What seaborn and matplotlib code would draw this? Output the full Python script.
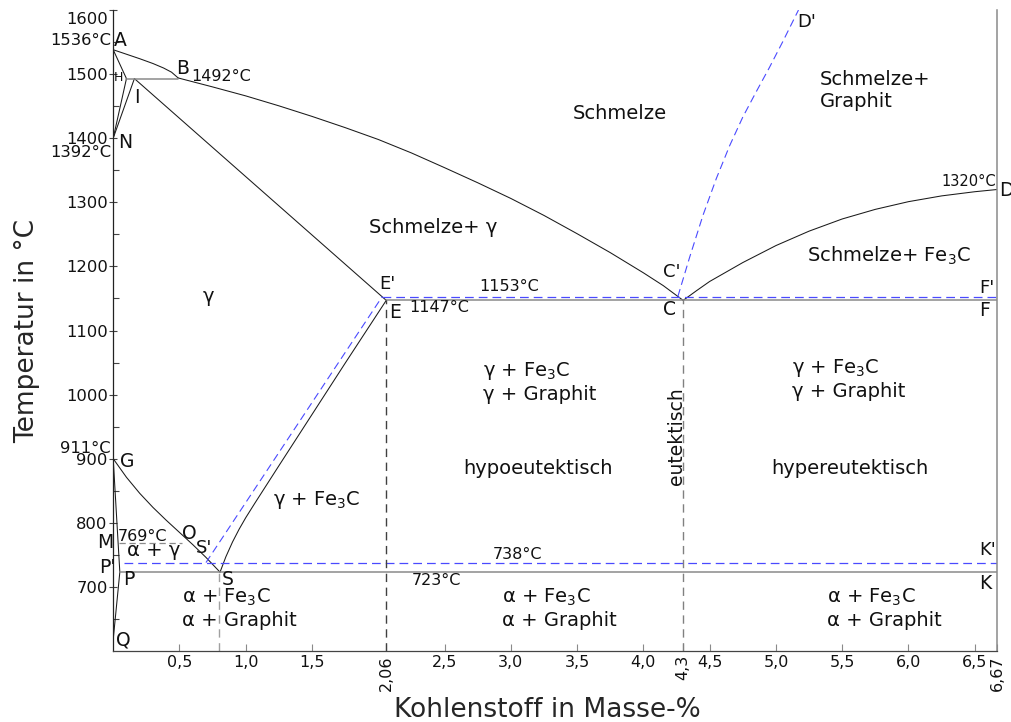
import numpy as np
import pandas as pd
import matplotlib
matplotlib.use("Agg")
import matplotlib.pyplot as plt
import matplotlib.transforms as mtransforms
import seaborn as sns

# ---------------- data (C in mass-%, T in °C) ----------------
AB_C = [0.0, 0.1, 0.2, 0.3, 0.38, 0.44, 0.49]
AB_T = [1538, 1531, 1524, 1516.5, 1509.5, 1503, 1494]
BC_C = [0.49, 0.75, 1.0, 1.25, 1.5, 1.75, 2.0, 2.25, 2.5, 2.75, 3.0, 3.25,
        3.5, 3.75, 4.0, 4.15, 4.3]
BC_T = [1494, 1480, 1466, 1450.5, 1434, 1416.5, 1398, 1377, 1354, 1330.5,
        1306, 1279.5, 1251, 1221.5, 1190, 1170, 1147]
AH_C = [0.0, 0.10]
AH_T = [1538, 1493]
HN_C = [0.10, 0.0]
HN_T = [1493, 1400]
IN_C = [0.16, 0.0]
IN_T = [1493, 1400]
IE_C = [0.16, 2.06]
IE_T = [1493, 1147]
CD_C = [4.3, 4.4, 4.5, 4.75, 5.0, 5.25, 5.5, 5.75, 6.0, 6.25, 6.5, 6.67]
CD_T = [1147, 1162, 1176.5, 1206, 1232.5, 1255, 1274, 1289, 1301, 1310,
        1316.5, 1320]
CpDp_C = [4.26, 4.35, 4.45, 4.55, 4.65, 4.75, 4.85, 4.95, 5.05, 5.17]
CpDp_T = [1153, 1215, 1280, 1337, 1388, 1433, 1472, 1510, 1550, 1600]
GS_C = [0.0, 0.1, 0.2, 0.3, 0.4, 0.5, 0.6, 0.7, 0.806]
GS_T = [900, 871, 846, 824, 804, 785, 766, 746, 723]
GPQ_C = [0.0, 0.05, 0.0]
GPQ_T = [900, 723, 618]
SE_C = [0.806, 0.85, 0.9, 0.95, 1.0, 1.07, 1.25, 1.5, 1.75, 2.06]
SE_T = [723, 747, 770, 790, 808, 831, 889, 969, 1049, 1147]
SpEp_C = [0.70, 2.03]
SpEp_T = [738, 1153]

# horizontal isotherms: (C_start, C_end, T)
HB_line = (0.10, 0.49, 1493)
EF_line = (2.06, 6.67, 1147)
EpFp_line = (2.03, 6.67, 1153)
PK_line = (0.05, 6.67, 723)
PpKp_line = (0.08, 6.67, 738)
MO_line = (0.04, 0.52, 769)

# vertical dashed guides: C, T_top
V_C = [0.8, 2.06, 4.3]
V_T = [723, 1147, 1147]
V_COL = ["#a0a0a0", "#404040", "#808080"]

X_TICKS = [0.5, 1.0, 1.5, 2.5, 3.0, 3.5, 4.0, 4.5, 5.0, 5.5, 6.0, 6.5]
X_TICK_LABELS = ["0,5", "1,0", "1,5", "2,5", "3,0", "3,5", "4,0", "4,5",
                 "5,0", "5,5", "6,0", "6,5"]
X_SPECIAL = [2.06, 4.3, 6.67]
X_SPECIAL_LABELS = ["2,06", "4,3", "6,67"]
Y_TICKS = [700, 800, 900, 1000, 1100, 1200, 1300, 1400, 1500, 1600]

# ---------------- figure ----------------
sns.set_theme(style="ticks")
plt.rcParams["font.family"] = ["DejaVu Sans"]
fig = plt.figure(figsize=(10.12, 7.22), dpi=100)
ax = fig.add_axes([113.2 / 1012, 1 - 651 / 722, (997.3 - 113.2) / 1012, 641 / 722])

BLACK = "#1a1a1a"
GREY = "#8a8a8a"
BLUE = "#4a4aff"


def line(c, t, color=BLACK, lw=0.75, ls="-"):
    sns.lineplot(x=c, y=t, ax=ax, sort=False, estimator=None, color=color,
                 linewidth=lw, linestyle=ls)


for c, t in [(AB_C, AB_T), (BC_C, BC_T), (AH_C, AH_T), (HN_C, HN_T),
             (IN_C, IN_T), (IE_C, IE_T), (CD_C, CD_T), (GS_C, GS_T),
             (GPQ_C, GPQ_T), (SE_C, SE_T)]:
    line(c, t)

dash = (0, (7, 4))
line(CpDp_C, CpDp_T, color=BLUE, lw=0.8, ls=dash)
line(SpEp_C, SpEp_T, color=BLUE, lw=0.8, ls=dash)

for (c0, c1, t) in [HB_line, EF_line, PK_line]:
    line([c0, c1], [t, t], color=GREY, lw=1.1)
for (c0, c1, t) in [EpFp_line, PpKp_line]:
    line([c0, c1], [t, t], color=BLUE, lw=0.9, ls=dash)
line([MO_line[0], MO_line[1]], [MO_line[2], MO_line[2]], color=GREY, lw=0.9,
     ls=(0, (5, 3)))

for c, t, col in zip(V_C, V_T, V_COL):
    line([c, c], [600, t], color=col, lw=1.0, ls=(0, (6, 4)))

ax.set_xlim(0, 6.67)
ax.set_ylim(600, 1600)

# ticks
ax.set_xticks(X_TICKS + X_SPECIAL)
ax.set_xticklabels(X_TICK_LABELS + X_SPECIAL_LABELS, fontsize=11.5)
for lab in ax.get_xticklabels():
    if lab.get_text() in X_SPECIAL_LABELS:
        lab.set_rotation(90)
ax.set_yticks(Y_TICKS)
ax.set_yticklabels([str(v) for v in Y_TICKS], fontsize=11.8)
ax.set_yticks(np.arange(650, 1600, 100), minor=True)
ax.tick_params(axis="x", direction="in", length=5, width=0.8, color=GREY,
               pad=3, labelcolor="#111111")
ax.tick_params(axis="y", which="major", direction="inout", length=6, width=0.8,
               color="#444444", pad=1, labelcolor="#111111")
ax.tick_params(axis="y", which="minor", direction="in", length=4, width=0.8,
               color="#444444")
# top label sits a little lower in the reference
for lab in ax.get_yticklabels():
    if lab.get_text() == "1600":
        lab.set_transform(lab.get_transform() +
                          mtransforms.ScaledTranslation(0, -8 / 100, fig.dpi_scale_trans))

ax.spines["top"].set_visible(False)
ax.spines["right"].set_color(GREY)
ax.spines["right"].set_linewidth(1.1)
ax.spines["left"].set_color("#222222")
ax.spines["left"].set_linewidth(0.9)
ax.spines["bottom"].set_color("#444444")
ax.spines["bottom"].set_linewidth(0.9)

ax.set_xlabel("Kohlenstoff in Masse-%", fontsize=19)
ax.set_ylabel("Temperatur in °C", fontsize=19)
ax.xaxis.set_label_coords(0.491, -0.072)
ax.yaxis.set_label_coords(-0.083, 0.5)

# ---------------- annotations ----------------
TXT = "#111111"


def t(x, y, s, size=13, ha="left", va="center", **kw):
    ax.text(x, y, s, fontsize=size, ha=ha, va=va, color=TXT, **kw)


# temperatures (small)
t(-0.017, 1553, "1536°C", 11.8, ha="right")
t(-0.017, 1377, "1392°C", 11.8, ha="right")
t(-0.017, 916, "911°C", 11.8, ha="right")
t(0.59, 1497, "1492°C", 11.5)
t(6.663, 1332, "1320°C", 10.5, ha="right")
t(2.233, 1136, "1147°C", 11.5)
t(2.987, 1169, "1153°C", 11.5, ha="center")
t(0.036, 779, "769°C", 11.5)
t(3.048, 750, "738°C", 11.5, ha="center")
t(2.436, 710, "723°C", 11.5, ha="center")

# point letters
t(0.006, 1553, "A", 13.5)
t(0.007, 1494, "H", 9)
t(0.475, 1509, "B", 13.5)
t(0.18, 1464, "I", 13.5, ha="center")
t(0.036, 1393, "N", 13.5)
t(5.16, 1581, "D'", 13)
t(6.685, 1319, "D", 13.5)
t(2.006, 1173, "E'", 13)
t(2.08, 1128, "E", 13.5)
t(4.15, 1192, "C'", 13)
t(4.15, 1133, "C", 13.5)
t(6.535, 1167, "F'", 13)
t(6.535, 1131, "F", 13.5)
t(0.051, 896, "G", 13.5)
t(0.52, 784, "O", 13.5)
t(-0.002, 770, "M", 13.5, ha="right")
t(0.625, 760, "S'", 13)
t(0.02, 731, "P'", 13.5, ha="right")
t(0.075, 712, "P", 13.5)
t(0.82, 712, "S", 13.5)
t(6.535, 757, "K'", 13)
t(6.535, 706, "K", 13.5)
t(0.022, 617, "Q", 13.5)

# region labels
t(3.825, 1439, "Schmelze", 14, ha="center")
t(5.333, 1474, "Schmelze+\nGraphit", 14)
t(2.414, 1260, "Schmelze+ γ", 14, ha="center")
t(5.855, 1217, "Schmelze+ Fe$_3$C", 14, ha="center")
t(0.715, 1153, "γ", 14, ha="center")
t(2.79, 1020, "γ + Fe$_3$C\nγ + Graphit", 14)
t(5.123, 1024, "γ + Fe$_3$C\nγ + Graphit", 14)
t(4.248, 935, "eutektisch", 13.5, ha="center", rotation=90)
t(3.206, 885, "hypoeutektisch", 14, ha="center")
t(5.554, 885, "hypereutektisch", 14, ha="center")
t(1.538, 835, "γ + Fe$_3$C", 14, ha="center")
t(0.308, 757, "α + γ", 14, ha="center")
t(0.52, 666, "α + Fe$_3$C\nα + Graphit", 14)
t(2.934, 666, "α + Fe$_3$C\nα + Graphit", 14)
t(5.387, 666, "α + Fe$_3$C\nα + Graphit", 14)

fig.savefig("out.png", dpi=100)
